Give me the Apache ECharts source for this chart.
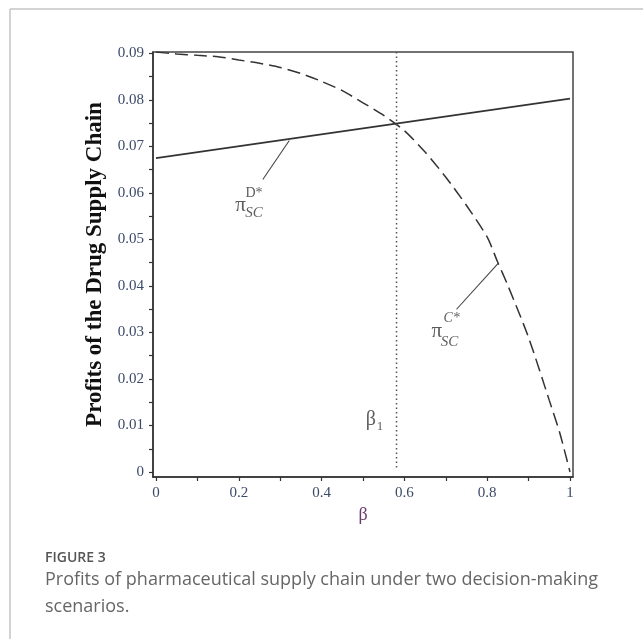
<!DOCTYPE html>
<html>
<head>
<meta charset="utf-8">
<script src="https://cdn.jsdelivr.net/npm/echarts@6/dist/echarts.min.js"></script>
<style>
html,body{margin:0;padding:0;background:#fff;}
#chart{width:643px;height:639px;}
</style>
</head>
<body>
<div id="chart"></div>
<script>
// ---- data ----
const cBeta   = [0, 0.05, 0.1, 0.15, 0.2, 0.25, 0.3, 0.35, 0.4, 0.45, 0.5, 0.55, 0.6, 0.65, 0.7, 0.75, 0.8, 0.825, 0.85, 0.9, 0.95, 0.975, 1];
const cProfit = [0.0903, 0.0899, 0.0896, 0.0893, 0.0886, 0.0879, 0.0870, 0.0857, 0.0840, 0.0820, 0.0794, 0.0767, 0.0734, 0.0688, 0.0634, 0.0573, 0.0505, 0.0452, 0.0401, 0.0289, 0.0154, 0.0085, 0];
const dBeta   = [0, 1];
const dProfit = [0.0675, 0.0803];
const beta1   = 0.581;
const xTickValues  = [0, 0.1, 0.2, 0.3, 0.4, 0.5, 0.6, 0.7, 0.8, 0.9, 1];
const xLabelValues = [0, 0.2, 0.4, 0.6, 0.8, 1];
const yTickValues  = [0, 0.005, 0.01, 0.015, 0.02, 0.025, 0.03, 0.035, 0.04, 0.045, 0.05, 0.055, 0.06, 0.065, 0.07, 0.075, 0.08, 0.085, 0.09];
const yLabelValues = [0, 0.01, 0.02, 0.03, 0.04, 0.05, 0.06, 0.07, 0.08, 0.09];
const xTitle = 'β';
const yTitle = 'Profits of the Drug Supply Chain';
const captionHead = 'FIGURE 3';
const captionLines = ['Profits of pharmaceutical supply chain under two decision-making', 'scenarios.'];

const pairs = (xs, ys) => xs.map((x, i) => [x, ys[i]]);
const fmt = v => (v === 0 ? '0' : v === 1 ? '1' : String(+v.toFixed(3)));

const serif = '"Liberation Serif", "Times New Roman", serif';
const tickLabelColor = '#3b4a68';
const ink = '#333';

const chart = echarts.init(document.getElementById('chart'), null, {renderer: 'canvas'});

const labelItem = (x, y, text, size, italic) => ({
  value: [x, y],
  label: {formatter: text, fontSize: size, fontStyle: italic ? 'italic' : 'normal'}
});

chart.setOption({
  animation: false,
  backgroundColor: '#fff',
  grid: {left: 153, top: 52, width: 420, height: 425, show: true, borderColor: '#444', borderWidth: 1.5, outerBoundsMode: 'none'},
  xAxis: {
    type: 'value', min: -0.00725, max: 1.00725,
    name: xTitle, nameLocation: 'middle', nameGap: 26,
    nameTextStyle: {fontFamily: serif, fontSize: 18, color: '#6b3a6b'},
    axisLine: {show: true, onZero: false, lineStyle: {color: ink, width: 1.5}},
    axisTick: {show: true, length: 4, customValues: xTickValues, lineStyle: {color: ink, width: 1.2}},
    axisLabel: {customValues: xLabelValues, formatter: fmt, margin: 9, fontFamily: serif, fontSize: 15, color: tickLabelColor},
    splitLine: {show: false}
  },
  yAxis: {
    type: 'value', min: -0.001075, max: 0.09032,
    name: yTitle, nameLocation: 'middle', nameGap: 40,
    nameTextStyle: {fontFamily: serif, fontSize: 23, fontWeight: 'bold', color: '#111'},
    axisLine: {show: true, onZero: false, lineStyle: {color: ink, width: 1.5}},
    axisTick: {show: true, length: 4, customValues: yTickValues, lineStyle: {color: ink, width: 1.2}},
    axisLabel: {customValues: yLabelValues, formatter: fmt, margin: 9, fontFamily: serif, fontSize: 15, color: tickLabelColor},
    splitLine: {show: false}
  },
  series: [
    {name: 'C', type: 'line', data: pairs(cBeta, cProfit), showSymbol: false, smooth: 0.25,
     lineStyle: {color: ink, width: 1.5, type: [13, 6]}},
    {name: 'D', type: 'line', data: pairs(dBeta, dProfit), showSymbol: false,
     lineStyle: {color: ink, width: 1.6}},
    {name: 'beta1', type: 'line', data: [[beta1, 0.0903], [beta1, 0.0004]], showSymbol: false,
     lineStyle: {color: '#555', width: 1.5, type: [1.5, 3]}},
    {name: 'leaderD', type: 'line', data: [[0.258, 0.0629], [0.322, 0.0713]], showSymbol: false,
     lineStyle: {color: '#444', width: 1.1}},
    {name: 'leaderC', type: 'line', data: [[0.726, 0.0350], [0.827, 0.0449]], showSymbol: false,
     lineStyle: {color: '#444', width: 1.1}},
    {name: 'labels', type: 'scatter', symbolSize: 1, itemStyle: {color: 'rgba(0,0,0,0)'},
     label: {show: true, position: 'inside', color: '#333', fontFamily: serif},
     data: [
       labelItem(0.204, 0.0574, 'π', 21, false),
       labelItem(0.2367, 0.0600, 'D*', 14, false),
       labelItem(0.2367, 0.0556, 'SC', 15, true),
       labelItem(0.678, 0.0302, 'π', 21, false),
       labelItem(0.714, 0.0330, 'C*', 14, true),
       labelItem(0.709, 0.0280, 'SC', 15, true),
       labelItem(0.519, 0.01125, 'β', 20, false),
       labelItem(0.541, 0.0097, '1', 13, false)
     ]}
  ],
  graphic: [
    {type: 'line', shape: {x1: 10, y1: 9, x2: 643, y2: 9}, style: {stroke: '#c4c4c4', lineWidth: 1.5}},
    {type: 'line', shape: {x1: 10, y1: 9, x2: 10, y2: 639}, style: {stroke: '#c4c4c4', lineWidth: 1.5}},
    {type: 'text', left: 45, top: 551, style: {text: captionHead, font: '600 14px "Open Sans"', fill: '#555'}},
    {type: 'text', left: 45, top: 571, style: {text: captionLines[0], font: '18px "Open Sans"', fill: '#666'}},
    {type: 'text', left: 45, top: 598, style: {text: captionLines[1], font: '18px "Open Sans"', fill: '#666'}}
  ]
});
</script>
</body>
</html>
